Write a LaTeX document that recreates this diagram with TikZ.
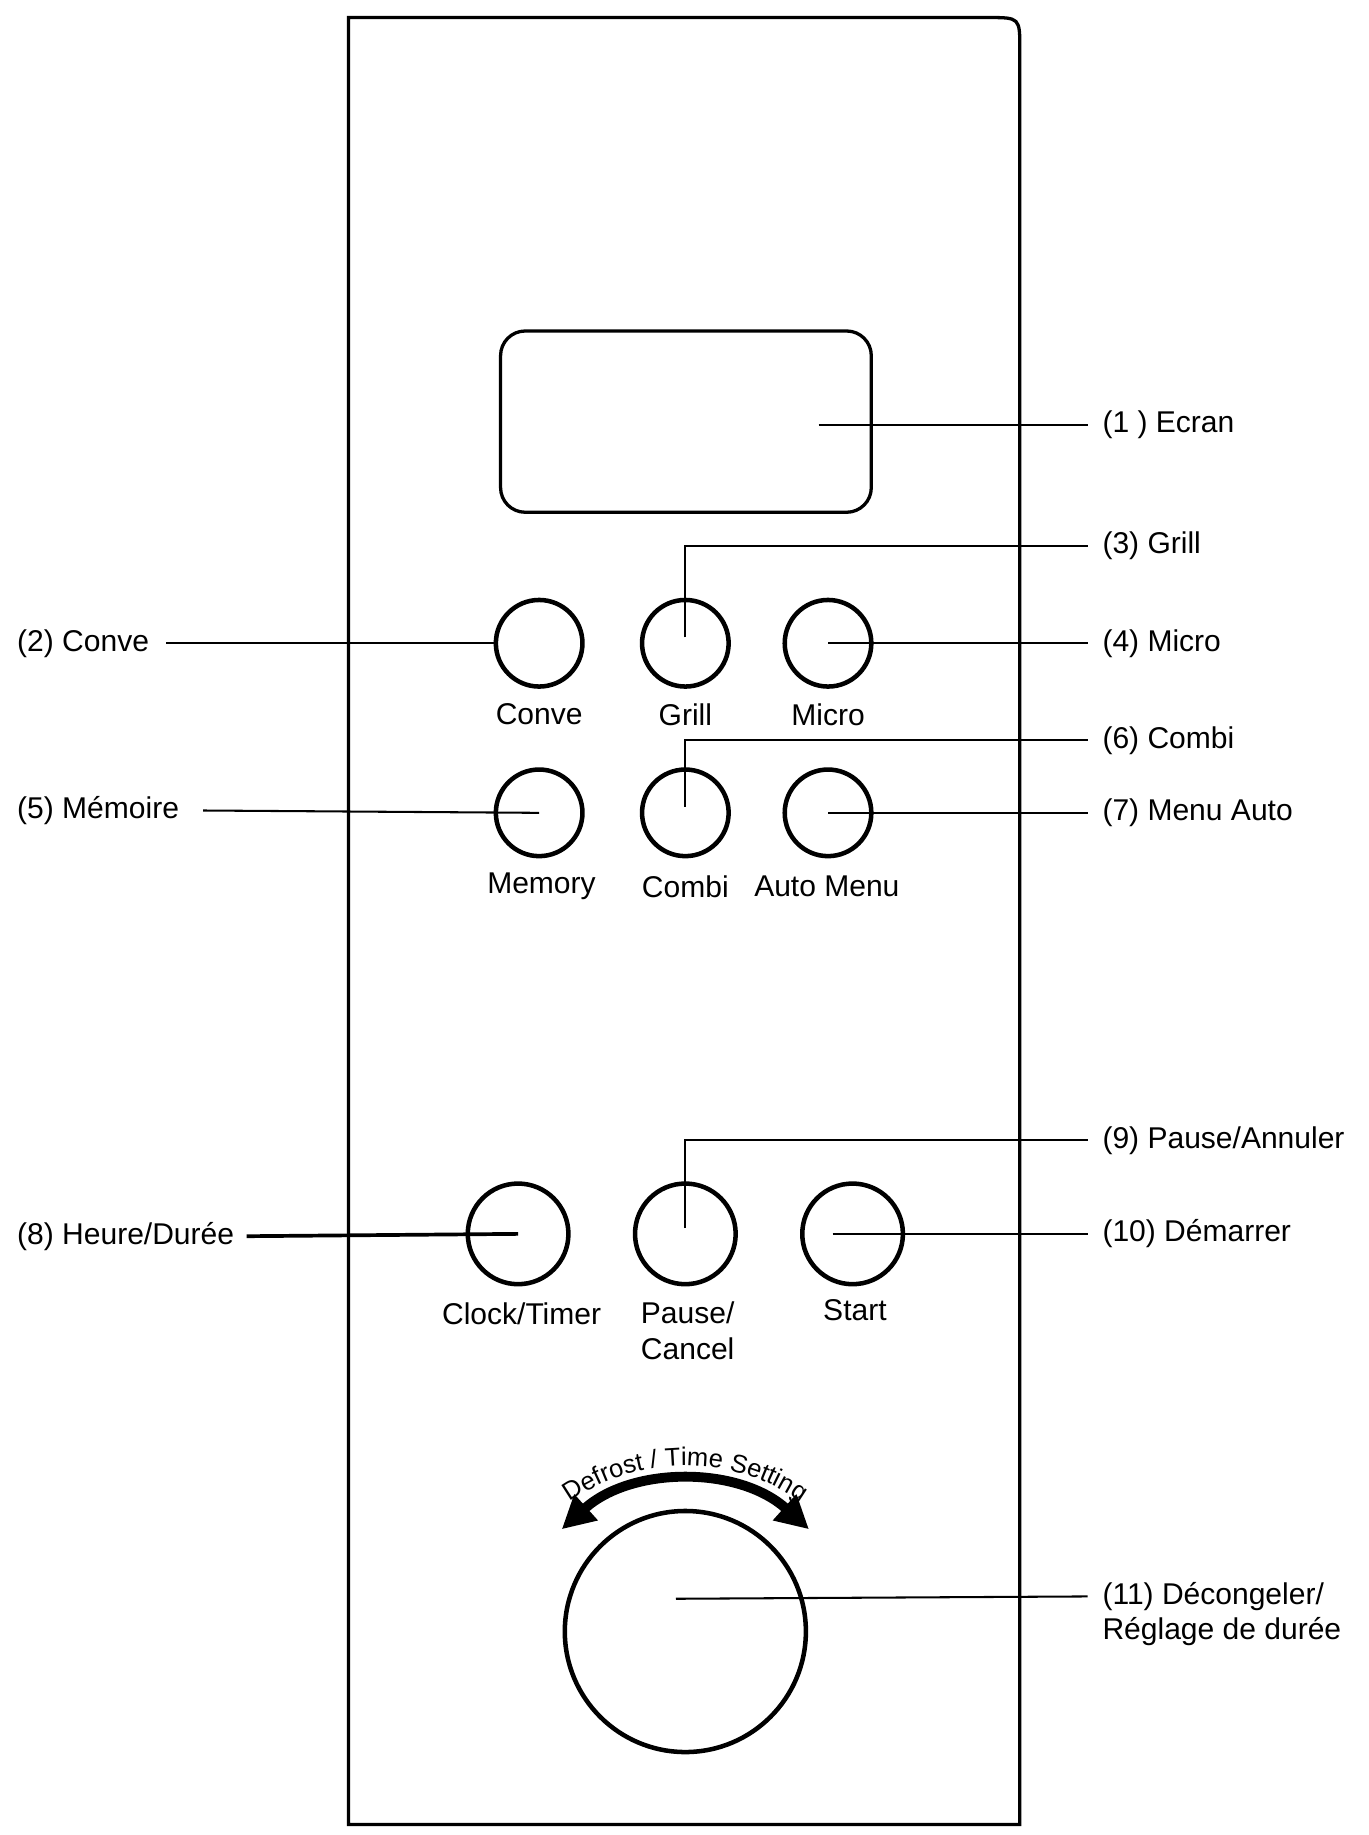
\documentclass[tikz,border=0pt]{standalone}
\usepackage{fontspec}
\setmainfont{Liberation Sans}
\usetikzlibrary{decorations.text,arrows.meta}
\tikzset{
  btn/.style={circle,draw,line width=1.1pt,minimum size=0.74cm,inner sep=0pt},
  bigbtn/.style={circle,draw,line width=1.1pt,minimum size=0.86cm,inner sep=0pt},
  lbl/.style={font=\fontsize{7.3}{8.6}\selectfont,inner sep=0pt},
  lead/.style={line width=0.5pt}
}
\begin{document}
\begin{tikzpicture}[x=0.01cm,y=-0.01cm]
  \useasboundingbox (0,0) rectangle (1170,1569);
  % panel
  \draw[line width=0.8pt] (298,1560) -- (298,15) -- (845,15)
     .. controls (872,15) .. (872,42) -- (872,1560) -- cycle;
  \draw[line width=0.8pt,rounded corners=6] (428,283) rectangle (745,438);
  \coordinate (scr) at (700,363);

  % buttons
  \node[btn] (conve) at (461,550) {};
  \node[btn] (grill) at (586,550) {};
  \node[btn] (micro) at (708,550) {};
  \node[btn] (memory) at (461,695) {};
  \node[btn] (combi) at (586,695) {};
  \node[btn] (auto) at (708,695) {};
  \node[bigbtn] (clock) at (443,1055) {};
  \node[bigbtn] (pause) at (586,1055) {};
  \node[bigbtn] (start) at (729,1055) {};
  \node[circle,draw,line width=1.1pt,minimum size=2.06cm,inner sep=0pt] (knob) at (586,1395) {};

  \node[lbl] at (461,611) {Conve};
  \node[lbl] at (586,611) {Grill};
  \node[lbl] at (708,611) {Micro};
  \node[lbl] at (463,758) {Memory};
  \node[lbl] at (586,758) {Combi};
  \node[lbl] at (707,758) {Auto Menu};
  \node[lbl] at (446,1123) {Clock/Timer};
  \node[lbl,align=center] at (588,1138) {Pause/\\Cancel};
  \node[lbl] at (731,1120) {Start};

  % dial arrow
  \draw[line width=2.4pt,{Triangle[length=8pt,width=8pt]}-{Triangle[length=8pt,width=8pt]}]
    (586,1425) ++(228:158) arc[start angle=228,end angle=312,radius=158];
  \path[decorate,decoration={text along path,text align=center,
      text={|\fontsize{6.2}{7}\selectfont|Defrost / Time Setting}}]
    (586,1425) ++(230:172) arc[start angle=230,end angle=310,radius=172];

  % right labels
  \node[lbl,anchor=west] (l1) at (942,363) {(1 ) Ecran};
  \node[lbl,anchor=west] (l3) at (942,467) {(3) Grill};
  \node[lbl,anchor=west] (l4) at (942,550) {(4) Micro};
  \node[lbl,anchor=west] (l6) at (942,633) {(6) Combi};
  \node[lbl,anchor=west] (l7) at (942,695) {(7) Menu Auto};
  \node[lbl,anchor=west] (l9) at (942,975) {(9) Pause/Annuler};
  \node[lbl,anchor=west] (l10) at (942,1055) {(10) Démarrer};
  \node[lbl,anchor=west,align=left] (l11) at (942,1380) {(11) Décongeler/\\Réglage de durée};
  % left labels
  \node[lbl,anchor=west] (l2) at (14,550) {(2) Conve};
  \node[lbl,anchor=west] (l5) at (14,693) {(5) Mémoire};
  \node[lbl,anchor=west] (l8) at (14,1057) {(8) Heure/Durée};

  % leaders
  \draw[lead] (scr) -- ([shift={(-12,0)}]l1.west);
  \draw[lead] ([shift={(0,-5)}]grill.center) |- ([shift={(-12,0)}]l3.west);
  \draw[lead] (micro.center) -- ([shift={(-12,0)}]l4.west);
  \draw[lead] ([shift={(0,-5)}]combi.center) |- ([shift={(-12,0)}]l6.west);
  \draw[lead] (auto.center) -- ([shift={(-12,0)}]l7.west);
  \draw[lead] ([shift={(0,-5)}]pause.center) |- ([shift={(-12,0)}]l9.west);
  \draw[lead] ([shift={(-17,0)}]start.center) -- ([shift={(-12,0)}]l10.west);
  \draw[lead] ([shift={(-8,-28)}]knob.center) -- ([shift={(-12,-15)}]l11.west);
  \draw[lead] ([shift={(14,0)}]l2.east) -- (conve.west);
  \draw[lead] ([shift={(20,0)}]l5.east) -- (memory.center);
  \draw[line width=0.9pt] ([shift={(10,0)}]l8.east) -- (clock.center);
\end{tikzpicture}
\end{document}
